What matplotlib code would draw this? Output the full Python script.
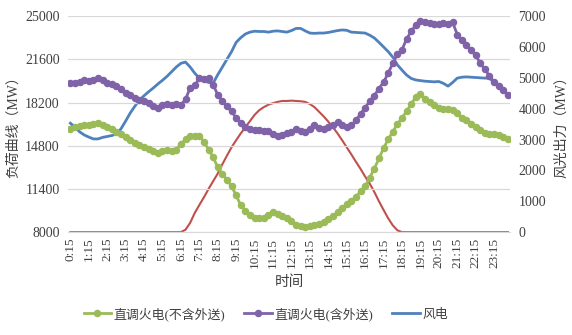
import numpy as np
import matplotlib
matplotlib.use("Agg")
import matplotlib.pyplot as plt

plt.rcParams['font.family'] = ['Liberation Serif', 'Noto Sans CJK SC', 'DejaVu Sans']

# 15-minute points, 0:15 .. 24:00
TIMES = [f"{(15 * (i + 1)) // 60}:{(15 * (i + 1)) % 60:02d}" for i in range(96)]

# 直调火电(不含外送), MW, left axis
THERMAL_EXCL = [16100, 16250, 16350, 16400, 16450, 16500, 16600, 16450, 16300, 16100,
                15900, 15750, 15500, 15250, 15000, 14850, 14700, 14550, 14400, 14250,
                14350, 14450, 14400, 14500, 14950, 15300, 15600, 15550, 15600, 15100,
                14500, 13900, 13100, 12600, 12100, 11600, 10900, 10100, 9700, 9350,
                9150, 9100, 9150, 9350, 9550, 9450, 9250, 9100, 8850, 8600,
                8450, 8400, 8500, 8600, 8650, 8800, 9000, 9300, 9550, 9900,
                10200, 10450, 10800, 11200, 11600, 12300, 13000, 13800, 14600, 15300,
                15900, 16500, 17000, 17500, 18100, 18600, 18900, 18500, 18250, 18000,
                17800, 17700, 17700, 17650, 17400, 17000, 16800, 16500, 16250, 16000,
                15800, 15750, 15700, 15650, 15500, 15300]

# 直调火电(含外送), MW, left axis
THERMAL_INCL = [19700, 19750, 19850, 19950, 19900, 20000, 20100, 19950, 19750, 19650,
                19500, 19250, 18950, 18800, 18550, 18400, 18300, 18150, 17900, 17750,
                18000, 18050, 18000, 18050, 18000, 18450, 19350, 19550, 20100, 20050,
                20150, 19600, 18800, 18300, 17900, 17500, 17000, 16600, 16300, 16100,
                16050, 16000, 15950, 15950, 15750, 15550, 15650, 15800, 15900, 16100,
                15950, 15850, 16150, 16400, 16200, 16150, 16250, 16450, 16650, 16450,
                16250, 16400, 16800, 17300, 17800, 18300, 18750, 19300, 19800, 20500,
                21300, 22000, 22350, 23200, 23800, 24300, 24650, 24550, 24450, 24400,
                24350, 24450, 24400, 24500, 23550, 23100, 22700, 22300, 21900, 21300,
                20800, 20300, 19800, 19500, 19200, 18800]

# 风电, MW, right axis
WIND = [3530, 3400, 3250, 3150, 3080, 3020, 3020, 3070, 3100, 3130,
        3180, 3350, 3600, 3860, 4080, 4280, 4420, 4550, 4670, 4800,
        4920, 5050, 5200, 5350, 5470, 5510, 5350, 5150, 4990, 4900,
        4850, 4830, 5100, 5350, 5600, 5850, 6150, 6300, 6420, 6480,
        6510, 6500, 6500, 6480, 6510, 6520, 6500, 6480, 6530, 6600,
        6600, 6520, 6450, 6440, 6450, 6450, 6470, 6500, 6530, 6550,
        6540, 6480, 6470, 6460, 6450, 6380, 6290, 6150, 6000, 5850,
        5670, 5420, 5250, 5090, 4980, 4930, 4910, 4890, 4880, 4870,
        4880, 4820, 4730, 4850, 4990, 5020, 5030, 5020, 5010, 5000,
        4990, 4990, 4850, 4700, 4570, 4440]

# 光伏, MW, right axis
SOLAR = [0] * 25 + [80, 300, 620, 880, 1130, 1400, 1650, 1900, 2200, 2480,
                    2750, 2980, 3200, 3400, 3600, 3800, 3950, 4050, 4130, 4180,
                    4220, 4250, 4250, 4260, 4250, 4240, 4220, 4150, 4050, 3900,
                    3750, 3580, 3400, 3200, 2980, 2750, 2520, 2280, 2050, 1800,
                    1570, 1300, 1000, 720, 450, 220, 60] + [0] * 24

LEFT_TICKS = [8000, 11400, 14800, 18200, 21600, 25000]
RIGHT_TICKS = [0, 1000, 2000, 3000, 4000, 5000, 6000, 7000]

GREEN, PURPLE, BLUE, RED = "#9BBB59", "#7F62A8", "#4F81BD", "#C0504D"
TEXT = "#404040"

x = np.arange(len(TIMES))

fig = plt.figure(figsize=(5.72, 3.35), dpi=100)
ax = fig.add_axes([0.119, 0.307, 0.773, 0.645])
ax2 = ax.twinx()

ax2.plot(x, SOLAR, color=RED, lw=1.5, zorder=2)
ax2.plot(x, WIND, color=BLUE, lw=2.0, zorder=3)
l1, = ax.plot(x, THERMAL_EXCL, color=GREEN, lw=2.0, marker="o", ms=4.4, zorder=3)
l2, = ax.plot(x, THERMAL_INCL, color=PURPLE, lw=2.0, marker="o", ms=4.4, zorder=3)
l3, = ax.plot([], [], color=BLUE, lw=2.0)

ax.set_zorder(ax2.get_zorder() + 1)
ax.patch.set_visible(False)

ax.set_xlim(-0.5, len(TIMES) - 0.5)
ax.set_ylim(LEFT_TICKS[0], LEFT_TICKS[-1])
ax2.set_ylim(RIGHT_TICKS[0], RIGHT_TICKS[-1])
ax.set_yticks(LEFT_TICKS)
ax2.set_yticks(RIGHT_TICKS)
ax.set_xticks(x[::4])
ax.set_xticklabels(TIMES[::4], rotation=90, fontsize=9.5, color=TEXT)
ax.tick_params(axis="y", labelsize=10, colors=TEXT, length=0, pad=6)
ax2.tick_params(axis="y", labelsize=10, colors=TEXT, length=0, pad=6)
ax.tick_params(axis="x", length=0, pad=4)

ax.grid(axis="y", color="#D9D9D9", lw=0.9)
for a in (ax, ax2):
    for s in a.spines.values():
        s.set_visible(False)
ax.spines["bottom"].set_visible(True)
ax.spines["bottom"].set_color("#D9D9D9")

ax.set_ylabel("负荷曲线（MW）", fontsize=10, color=TEXT, labelpad=4)
ax2.set_ylabel("风光出力（MW）", fontsize=10, color=TEXT, rotation=90, labelpad=6)
ax.set_xlabel("时间", fontsize=10.5, color=TEXT, labelpad=5)

fig.legend([l1, l2, l3], ["直调火电(不含外送)", "直调火电(含外送)", "风电"],
           loc="center left", bbox_to_anchor=(72 / 572, 1 - 314 / 335), ncol=3,
           frameon=False, fontsize=9.3, labelcolor=TEXT, handlelength=2.1,
           handletextpad=0.2, columnspacing=1.5)

fig.savefig("out.png", dpi=100)
